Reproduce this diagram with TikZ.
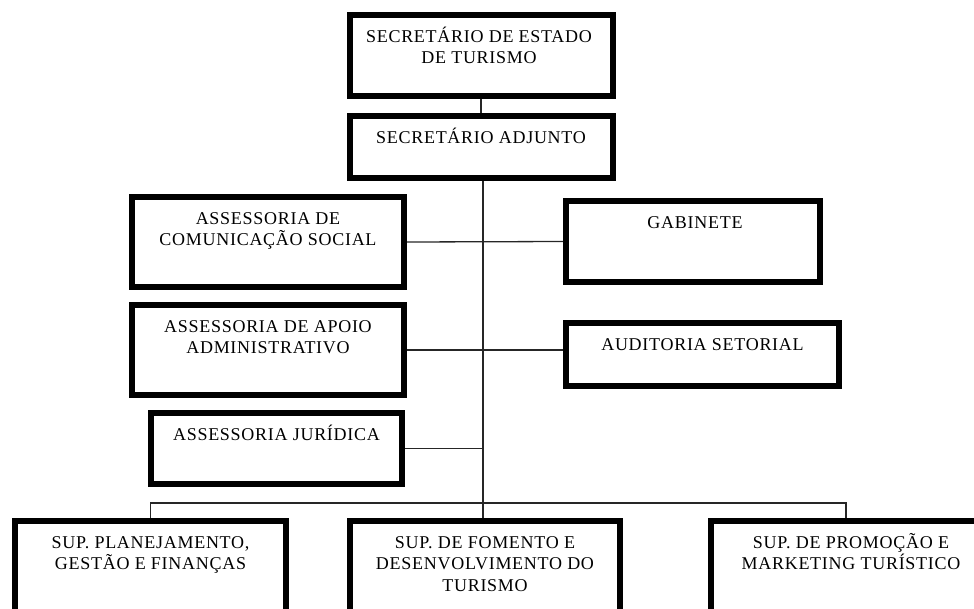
\documentclass[tikz,border=0pt]{standalone}
\usepackage{fontspec}
\setmainfont[LetterSpace=4]{Liberation Serif}
\newcommand{\firstrule}{\rule{0pt}{18pt}}
\begin{document}
\begin{tikzpicture}[x=1pt,y=-1pt,
  box/.style={draw=black, line width=6pt, inner sep=0pt, fill=white},
  txt/.style={anchor=north, inner sep=0pt, align=center, font={\fontsize{18pt}{21.5pt}\selectfont}},
  conn/.style={draw=black!85, line width=1.3pt}]
\useasboundingbox (0,0) rectangle (974,608);
% boxes (stroke-centre rectangles)
\node[box, minimum width=263pt, minimum height=81pt] (b1) at (481,55.5) {};
\node[box, minimum width=263pt, minimum height=62pt] (b2) at (481,147) {};
\node[box, minimum width=272pt, minimum height=90pt] (acs) at (268,242) {};
\node[box, minimum width=272pt, minimum height=90pt] (aaa) at (268,350) {};
\node[box, minimum width=251pt, minimum height=71pt] (aj) at (276.5,448.5) {};
\node[box, minimum width=254pt, minimum height=81pt] (gab) at (693,241.5) {};
\node[box, minimum width=273pt, minimum height=63pt] (aud) at (702.5,354.5) {};
\node[box, minimum width=271pt, minimum height=130pt] (sp1) at (150.5,586) {};
\node[box, minimum width=270pt, minimum height=130pt] (sp2) at (485,586) {};
\node[box, minimum width=280pt, minimum height=130pt] (sp3) at (851,586) {};
% texts
\node[txt] (t1) at ([yshift=-12pt,xshift=-2pt]b1.north) {\firstrule SECRETÁRIO DE ESTADO\\DE TURISMO};
\node[txt] (t2) at ([yshift=-12pt]b2.north) {\firstrule SECRETÁRIO ADJUNTO};
\node[txt] (tacs) at ([yshift=-12pt]acs.north) {\firstrule ASSESSORIA DE\\COMUNICAÇÃO SOCIAL};
\node[txt] (taaa) at ([yshift=-12pt]aaa.north) {\firstrule ASSESSORIA DE APOIO\\ADMINISTRATIVO};
\node[txt] (taj) at ([yshift=-12pt]aj.north) {\firstrule ASSESSORIA JURÍDICA};
\node[txt] (tgab) at ([yshift=-12pt,xshift=2pt]gab.north) {\firstrule GABINETE};
\node[txt] (taud) at ([yshift=-12pt]aud.north) {\firstrule AUDITORIA SETORIAL};
\node[txt] (tsp1) at ([yshift=-12pt]sp1.north) {\firstrule SUP. PLANEJAMENTO,\\GESTÃO E FINANÇAS};
\node[txt] (tsp2) at ([yshift=-12pt]sp2.north) {\firstrule SUP. DE FOMENTO E\\DESENVOLVIMENTO DO\\TURISMO};
\node[txt] (tsp3) at ([yshift=-12pt]sp3.north) {\firstrule SUP. DE PROMOÇÃO E\\MARKETING TURÍSTICO};
% connectors
\coordinate (spinetop) at (483,181);
\coordinate (bus) at (483,503);
\coordinate (sp3drop) at (846,518);
\draw[conn] (b1.south) -- (b2.north);
\draw[conn] (b2.south -| spinetop) -- (sp2.north -| spinetop);
\draw[conn] (acs.east) -- (gab.west);
\draw[conn] (aaa.east) -- (aaa.east -| aud.west);
\draw[conn] (aj.east) -- (aj.east -| spinetop);
\draw[conn] (sp1.north) -- (sp1.north |- bus) -- (sp3drop |- bus) -- (sp3drop);
\end{tikzpicture}
\end{document}
